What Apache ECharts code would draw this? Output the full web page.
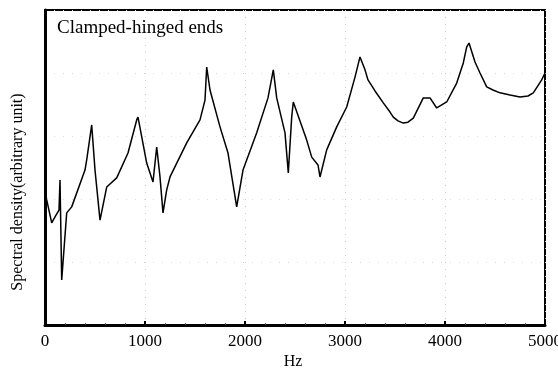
<!DOCTYPE html>
<html><head><meta charset="utf-8">
<script src="https://cdn.jsdelivr.net/npm/echarts@6/dist/echarts.min.js"></script>
<style>html,body{margin:0;padding:0;background:#fff}#c{width:558px;height:380px}</style>
</head><body><div id="c"></div>
<script>
const freqHz = [0,17,67,110,140,150,167,217,267,400,417,467,500,550,617,717,830,917,930,1017,1080,1117,1150,1180,1217,1250,1417,1550,1600,1617,1650,1750,1830,1917,1980,2117,2230,2283,2317,2400,2433,2467,2483,2617,2667,2730,2750,2817,2917,3017,3100,3150,3200,3230,3300,3383,3450,3483,3530,3583,3630,3683,3783,3850,3917,4017,4117,4183,4217,4240,4300,4350,4417,4480,4550,4650,4750,4830,4883,4967,5000];
const density = [42.9,39.7,32.4,34.9,36.5,46.0,14.3,35.6,37.5,49.2,52.4,63.5,49.2,33.3,43.8,46.7,54.6,65.1,66.0,51.4,45.4,56.5,47.0,35.6,42.9,47.0,57.8,65.1,71.4,81.9,74.6,62.9,54.6,37.5,49.2,61.0,72.1,81.0,72.1,61.0,48.3,66.0,70.8,58.7,53.3,50.8,47.0,55.6,62.9,69.2,78.7,85.1,81.0,77.8,74.3,70.5,67.6,66.0,64.8,64.1,64.4,65.7,72.1,72.1,68.9,70.8,76.8,83.2,88.3,89.5,83.5,80.0,75.6,74.6,73.7,73.0,72.4,72.7,73.7,77.8,80.0];
const xTicks = [0,1000,2000,3000,4000,5000];
const titleText = 'Clamped-hinged ends';
const yName = 'Spectral density(arbitrary unit)';
const xName = 'Hz';

const chart = echarts.init(document.getElementById('c'));
const serif = "'Liberation Serif','DejaVu Serif',serif";
chart.setOption({
  animation: false,
  grid: {left: 45, right: 13, top: 10, bottom: 55, outerBoundsMode: 'none', containLabel: false, show: true, borderColor: '#000', borderWidth: 2, backgroundColor: 'transparent'},
  xAxis: {
    type: 'value', min: xTicks[0], max: xTicks[xTicks.length-1], interval: 1000,
    axisLine: {show: true, lineStyle: {color: '#000', width: 3}},
    axisTick: {show: true, inside: true, length: 4, lineStyle: {color: '#000', width: 2}},
    minorTick: {show: true, splitNumber: 5, length: 2, lineStyle: {color: '#555'}},
    axisLabel: {color: '#000', fontFamily: serif, fontSize: 17, margin: 8, formatter: v => String(v)},
    splitLine: {show: true, lineStyle: {color: '#ccc', type: [1, 6], width: 1}}
  },
  yAxis: {
    type: 'value', min: 0, max: 100, interval: 20,
    axisLine: {show: true, lineStyle: {color: '#000', width: 3}},
    axisTick: {show: false}, axisLabel: {show: false},
    splitLine: {show: true, lineStyle: {color: '#ddd', type: [1, 8], width: 1}}
  },
  graphic: [
    {type: 'text', left: 57, top: 19, style: {text: titleText, font: '19px ' + serif, fill: '#000'}},
    {type: 'text', x: 18, y: 192, rotation: Math.PI/2, style: {text: yName, font: '16px ' + serif, fill: '#000', align: 'center', verticalAlign: 'middle'}},
    {type: 'text', x: 293, y: 362, style: {text: xName, font: '16px ' + serif, fill: '#000', align: 'center', verticalAlign: 'middle'}}
  ],
  series: [{
    type: 'line', showSymbol: false, silent: true,
    data: freqHz.map((f, i) => [f, density[i]]),
    lineStyle: {color: '#000', width: 1.5}
  }]
});
</script></body></html>
